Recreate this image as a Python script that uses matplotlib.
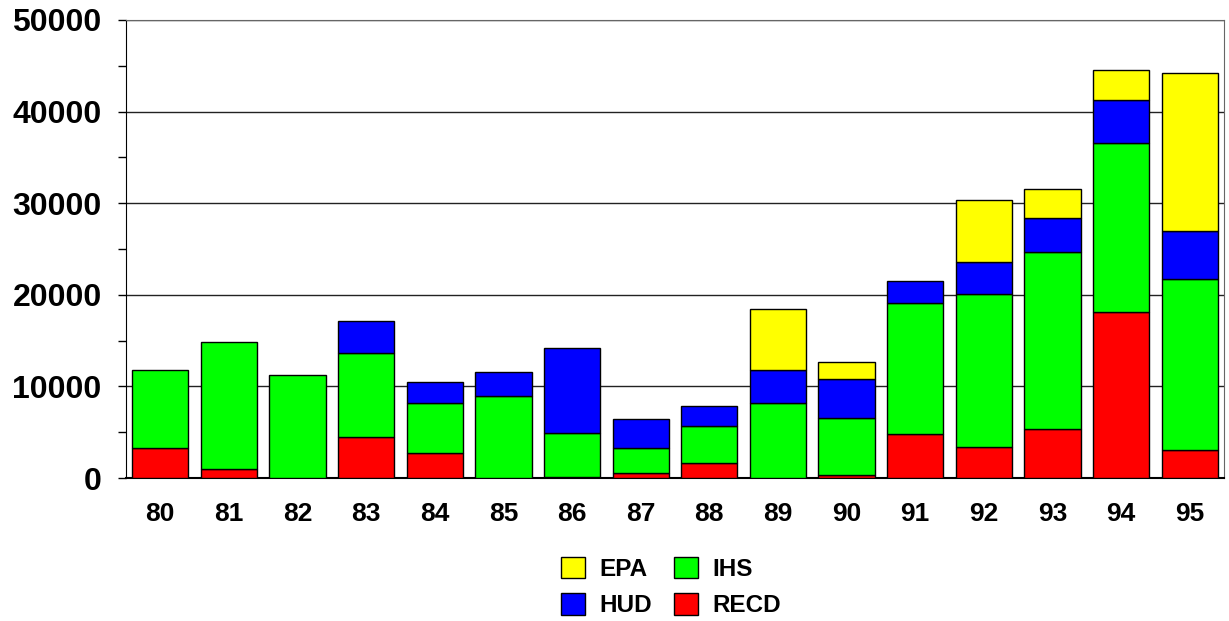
import matplotlib.pyplot as plt
import matplotlib.ticker as mtick
import numpy as np

plt.rcParams['font.family'] = ['Liberation Sans', 'DejaVu Sans']
plt.rcParams['font.weight'] = 'bold'

years = ['80', '81', '82', '83', '84', '85', '86', '87', '88', '89', '90', '91', '92', '93', '94', '95']
recd = [3300, 1000, 0, 4500, 2700, 0, 150, 500, 1650, 0, 330, 4800, 3400, 5300, 18100, 3050]
ihs = [8450, 13850, 11200, 9150, 5500, 8950, 4800, 2800, 4000, 8200, 6170, 14330, 16670, 19360, 18440, 18700]
hud = [0, 0, 0, 3450, 2300, 2620, 9200, 3100, 2250, 3550, 4350, 2400, 3530, 3680, 4730, 5170]
epa = [0, 0, 0, 0, 0, 0, 0, 0, 0, 6750, 1780, 0, 6740, 3200, 3280, 17270]

fig = plt.figure(figsize=(12.29, 6.21), dpi=100)
ax = fig.add_axes([126 / 1229, 1 - 478 / 621, 1098 / 1229, 458 / 621])

x = np.arange(len(years))
w = 0.82
bottom = np.zeros(len(years))
bars = {}
for name, vals, col in [('RECD', recd, '#ff0000'), ('IHS', ihs, '#00ff00'),
                        ('HUD', hud, '#0000ff'), ('EPA', epa, '#ffff00')]:
    vals = np.array(vals)
    mask = vals > 0
    bars[name] = ax.bar(x[mask], vals[mask], w, bottom=bottom[mask], color=col,
                        edgecolor='black', linewidth=1, zorder=3)
    bottom += vals

ax.set_xlim(-0.5, len(years) - 0.5)
ax.set_ylim(0, 50000)
ax.yaxis.set_major_locator(mtick.MultipleLocator(10000))
ax.yaxis.set_minor_locator(mtick.MultipleLocator(5000))
ax.yaxis.grid(True, which='major', color='#222222', linewidth=1, zorder=0)
ax.set_xticks(x)
ax.set_xticklabels(years)
ax.tick_params(axis='x', length=0, pad=17, labelsize=19)
ax.tick_params(axis='y', which='major', length=6, width=1, pad=11.5, labelsize=23)
ax.tick_params(axis='y', which='minor', length=6, width=1)
for lab in ax.get_yticklabels() + ax.get_xticklabels():
    lab.set_fontweight('bold')

for s in ['top', 'right']:
    ax.spines[s].set_color('#666666')
ax.spines['left'].set_color('black')
ax.spines['bottom'].set_color('black')
ax.spines['bottom'].set_linewidth(1.5)

handles = [bars['EPA'], bars['HUD'], bars['IHS'], bars['RECD']]
labels = ['EPA', 'HUD', 'IHS', 'RECD']
fig.legend(handles, labels, ncol=2, loc='center', bbox_to_anchor=(671 / 1229, 1 - 587 / 621),
           frameon=False, prop={'size': 17.5, 'weight': 'bold'},
           handlelength=1.0, handleheight=1.0, handletextpad=0.6, columnspacing=0.9,
           labelspacing=0.5, borderpad=0)

fig.savefig('out.png', dpi=100)
